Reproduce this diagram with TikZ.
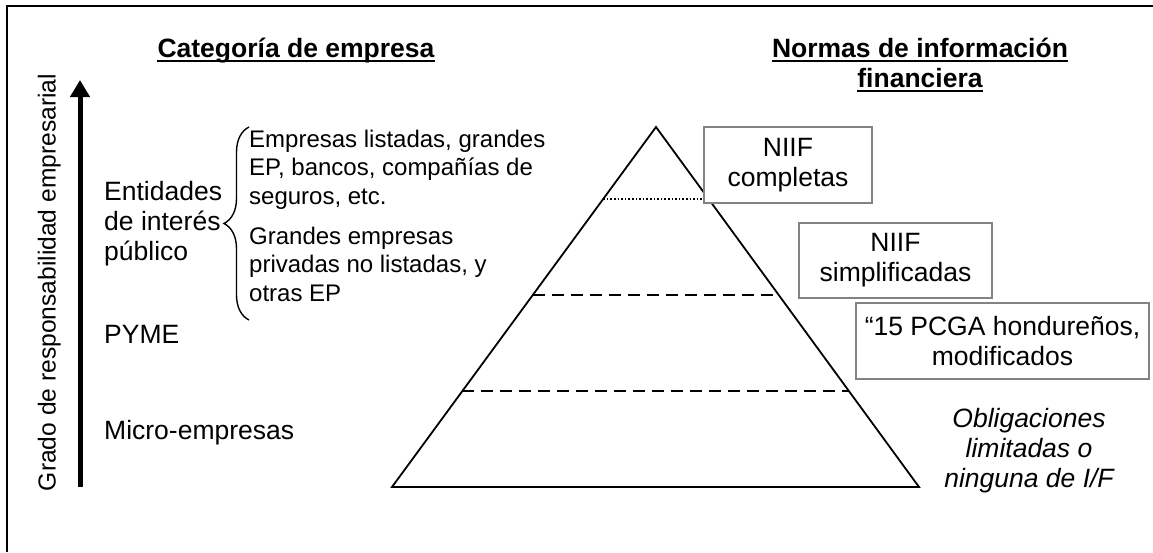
\documentclass[tikz,border=0pt]{standalone}
\usepackage{fontspec}
\setmainfont{Liberation Sans}
\usetikzlibrary{arrows.meta,decorations.pathreplacing,calc}
\definecolor{boxgray}{RGB}{130,130,130}
\begin{document}
\begin{tikzpicture}[x=1pt,y=-1pt,
  body/.style={font=\fontsize{26.5}{30}\selectfont, inner sep=0pt},
  bodyit/.style={font=\fontsize{26.5}{30}\selectfont\itshape, inner sep=0pt},
  small/.style={font=\fontsize{24}{28.5}\selectfont, inner sep=0pt, align=left},
  sidelabel/.style={font=\fontsize{24.6}{28}\selectfont, inner sep=0pt},
  titletext/.style={font=\fontsize{26.5}{30}\selectfont\bfseries, inner sep=0pt},
  uline/.style={line width=2pt},
  normbox/.style={draw=boxgray, line width=2.5pt, fill=white, font=\fontsize{26.5}{30}\selectfont, align=center, inner sep=0pt},
  pyr/.style={line width=1.8pt},
  levelline/.style={line width=2.3pt, dash pattern=on 12pt off 7pt},
  dotline/.style={line width=1.5pt, dash pattern=on 1.5pt off 2.1pt}
]
\useasboundingbox (0,0) rectangle (1153,552);
% frame
\draw[line width=2pt] (7,552) -- (7,6) -- (1153,6);

% titles
\node[titletext, anchor=base] (t1) at (296,57) {Categoría de empresa};
\draw[uline] ($(t1.base west)+(0,3.5)$) -- ($(t1.base east)+(0,3.5)$);
\node[titletext, anchor=base] (t2) at (920,57) {Normas de información};
\draw[uline] ($(t2.base west)+(0,3.5)$) -- ($(t2.base east)+(0,3.5)$);
\node[titletext, anchor=base] (t3) at (920,87) {financiera};
\draw[uline] ($(t3.base west)+(0,3.5)$) -- ($(t3.base east)+(0,3.5)$);

% arrow
\coordinate (abot) at (80,487);
\coordinate (atop) at (80,80);
\draw[line width=5pt, -{Triangle[width=19pt,length=17pt]}] (abot) -- (atop);
\node[sidelabel, rotate=90, anchor=base] (grado) at (55.5,282.5) {Grado de responsabilidad empresarial};

% left labels (base = baseline of last line)
\node[body, align=left, anchor=base west] (eip) at (104,260) {Entidades\\de interés\\público};
\node[body, anchor=base west] (pyme) at (104,343) {PYME};
\node[body, anchor=base west] (micro) at (104,439) {Micro-empresas};

% brace
\coordinate (brtop) at (249,127);
\coordinate (brbot) at (249,320);
\draw[line width=1.4pt, decorate, decoration={brace, amplitude=25pt}] (brbot) -- (brtop);

\node[small, anchor=base west] (g1) at (249,204) {Empresas listadas, grandes\\EP, bancos, compañías de\\seguros, etc.};
\node[small, anchor=base west] (g2) at (249,301) {Grandes empresas\\privadas no listadas, y\\otras EP};

% pyramid
\coordinate (apex) at (656,127);
\coordinate (bl) at (392,487);
\coordinate (br) at (919,487);
\draw[pyr] (apex) -- (bl) -- (br) -- cycle;
\draw[levelline] ($(apex)!0.4667!(bl)$) -- ($(apex)!0.4667!(br)$);
\draw[levelline] ($(apex)!0.7333!(bl)$) -- ($(apex)!0.7333!(br)$);
\coordinate (dl) at ($(apex)!0.2!(bl)$);

% boxes
\node[normbox, minimum width=168pt, minimum height=76pt] (b1) at (788,165) {NIIF\\completas};
\node[normbox, minimum width=193pt, minimum height=75pt] (b2) at (895.5,260.5) {NIIF\\simplificadas};
\node[normbox, minimum width=293pt, minimum height=76pt] (b3) at (1002.5,341) {“15 PCGA hondureños,\\modificados};
\draw[dotline] (dl) -- (b1.west |- dl);

\node[bodyit, align=center, anchor=base] (obl) at (1029,487) {Obligaciones\\limitadas o\\ninguna de I/F};
\end{tikzpicture}
\end{document}
